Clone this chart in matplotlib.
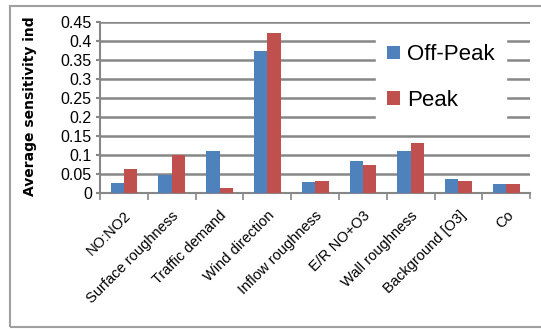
import numpy as np
import matplotlib.pyplot as plt
from matplotlib.patches import Rectangle

# sensitivity indices per parameter
params = ["NO:NO2", "Surface roughness", "Traffic demand", "Wind direction",
          "Inflow roughness", "E/R NO+O3", "Wall roughness", "Background [O3]", "Co"]
off_peak = [0.027, 0.048, 0.110, 0.374, 0.028, 0.084, 0.110, 0.037, 0.024]
peak = [0.064, 0.100, 0.014, 0.422, 0.032, 0.073, 0.132, 0.032, 0.024]
yticks = [0, 0.05, 0.1, 0.15, 0.2, 0.25, 0.3, 0.35, 0.4, 0.45]
ytick_labels = ["0", "0.05", "0.1", "0.15", "0.2", "0.25", "0.3", "0.35", "0.4", "0.45"]

plt.rcParams['font.family'] = ['Liberation Sans', 'DejaVu Sans']

fig = plt.figure(figsize=(5.41, 3.29), dpi=100)
# chart frame (right edge runs off the canvas)
fig.patches.append(Rectangle((0.019, 0.006), 1.1, 0.977, transform=fig.transFigure,
                             fill=False, edgecolor="#a0a0a0", linewidth=1.5))
ax = fig.add_axes([0.185, 0.413, 0.795, 0.52])

x = np.arange(len(params))
w = 0.28
ax.bar(x - w / 2, off_peak, w, color="#4F81BD", label="Off-Peak", zorder=3)
ax.bar(x + w / 2, peak, w, color="#C0504D", label="Peak", zorder=3)

ax.set_xlim(-0.5, len(params) - 0.5)
ax.set_ylim(0, 0.45)
ax.set_yticks(yticks)
ax.set_yticklabels(ytick_labels, fontsize=11.5)
ax.yaxis.grid(True, color="#878787", linewidth=1.8, zorder=0)
ax.tick_params(axis="y", length=3, color="#878787", width=1.5, pad=3)

ax.set_xticks(x - 0.5, minor=False)
ax.set_xticks(x, minor=True)
ax.set_xticklabels([])
ax.set_xticklabels(params, minor=True, rotation=45, ha="right", va="top",
                   rotation_mode="anchor", fontsize=10.5)
ax.tick_params(axis="x", which="major", length=5, color="#878787", width=1.2)
ax.tick_params(axis="x", which="minor", length=0, pad=11)
# closing tick at right end
ax.plot([len(params) - 0.5] * 2, [0, -0.012], color="#878787", lw=1.2,
        clip_on=False)

for side in ["top", "right"]:
    ax.spines[side].set_visible(False)
ax.spines["left"].set_color("#878787")
ax.spines["left"].set_linewidth(1.5)
ax.spines["bottom"].set_color("#878787")
ax.spines["bottom"].set_linewidth(1.5)

ax.set_ylabel("Average sensitivity ind", fontsize=10, fontweight="bold",
              family="DejaVu Sans")
ax.yaxis.set_label_coords(-0.147, 0.51)

leg = ax.legend(loc="upper right", bbox_to_anchor=(0.97, 1.0), fontsize=16,
                frameon=True, fancybox=False, edgecolor="white", framealpha=1,
                handlelength=0.55, handleheight=0.55, handletextpad=0.35,
                labelspacing=1.1, borderpad=0.5)
leg.set_zorder(5)

fig.savefig("out.png", dpi=100)
